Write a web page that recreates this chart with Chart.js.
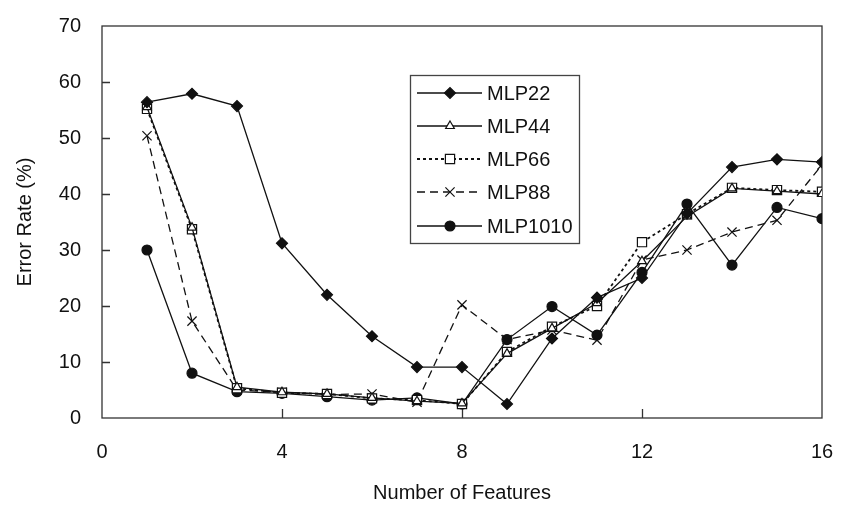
<!DOCTYPE html>
<html>
<head>
<meta charset="utf-8">
<title>Error rate by number of features</title>
<script src="https://cdn.jsdelivr.net/npm/chart.js@4.4.0/dist/chart.umd.min.js"></script>
<style>
    html, body { margin: 0; padding: 0; background: #fff; }
    #wrap { width: 843px; height: 510px; }
</style>
</head>
<body>
<div id="wrap"><canvas id="errChart"></canvas></div>
<script>
// number of input features used by each network
const features = [1, 2, 3, 4, 5, 6, 7, 8, 9, 10, 11, 12, 13, 14, 15, 16];

// error rate (%) per network
const mlp22   = [56.4, 57.9, 55.7, 31.2, 22.0, 14.6, 9.1, 9.1, 2.5, 14.2, 21.5, 25.0, 36.5, 44.8, 46.2, 45.7];
const mlp44   = [55.5, 34.0, 5.5, 4.6, 4.3, 3.6, 3.0, 2.6, 11.5, 16.0, 20.5, 28.0, 36.0, 41.0, 40.5, 40.0];
const mlp66   = [55.2, 33.7, 5.3, 4.5, 4.3, 3.5, 3.2, 2.5, 11.8, 16.3, 20.0, 31.4, 36.4, 41.1, 40.7, 40.4];
const mlp88   = [50.4, 17.3, 5.0, 4.6, 4.2, 4.3, 2.8, 20.2, 14.0, 15.7, 13.9, 28.2, 30.0, 33.2, 35.3, 45.2];
const mlp1010 = [30.0, 8.0, 4.7, 4.4, 3.8, 3.2, 3.6, 2.5, 14.0, 19.9, 14.8, 26.0, 38.2, 27.3, 37.6, 35.6];

const xTicks = [0, 4, 8, 12, 16];
const yTicks = [0, 10, 20, 30, 40, 50, 60, 70];

const INK = '#111';
const AXIS = '#333';
const FONT = "'Liberation Sans', Arial, sans-serif";

function points(values) {
    return features.map((f, i) => ({x: f, y: values[i]}));
}

function series(label, values, style) {
    return Object.assign({
        label: label,
        data: points(values),
        borderColor: INK,
        borderWidth: 1.3,
        pointBorderColor: INK,
        pointBorderWidth: 1.2,
        pointBackgroundColor: INK,
        pointRadius: 5,
        tension: 0,
        fill: false
    }, style);
}

const datasets = [
    series('MLP22', mlp22, {pointStyle: 'rectRot', pointRadius: 5.5}),
    series('MLP44', mlp44, {pointStyle: 'triangle', pointBackgroundColor: '#fff', pointRadius: 5}),
    series('MLP66', mlp66, {pointStyle: 'rect', pointBackgroundColor: '#fff', pointRadius: 6.5, borderDash: [3, 3], borderWidth: 1.8}),
    series('MLP88', mlp88, {pointStyle: 'crossRot', pointRadius: 6.5, borderDash: [8, 5]}),
    series('MLP1010', mlp1010, {pointStyle: 'circle', pointRadius: 5})
];

// frame with inward ticks, plus a boxed legend with line + marker samples
const frameAndLegend = {
    id: 'frameAndLegend',
    beforeDatasetsDraw(chart) {
        const {ctx, chartArea: a, scales} = chart;
        ctx.save();
        ctx.strokeStyle = AXIS;
        ctx.lineWidth = 1.3;
        ctx.strokeRect(a.left, a.top, a.right - a.left, a.bottom - a.top);
        ctx.beginPath();
        scales.y.ticks.forEach(t => {
            if (t.value <= 0 || t.value >= 70) return;
            const py = Math.round(scales.y.getPixelForValue(t.value)) + 0.5;
            ctx.moveTo(a.left, py);
            ctx.lineTo(a.left + 8, py);
        });
        scales.x.ticks.forEach(t => {
            if (t.value <= 0 || t.value >= 16) return;
            const px = Math.round(scales.x.getPixelForValue(t.value)) + 0.5;
            ctx.moveTo(px, a.bottom);
            ctx.lineTo(px, a.bottom - 9);
        });
        ctx.stroke();
        ctx.restore();
    },
    afterDraw(chart) {
        const {ctx} = chart;
        const box = {x: 410, y: 75, w: 169, h: 168};
        ctx.save();
        ctx.fillStyle = '#fff';
        ctx.fillRect(box.x, box.y, box.w, box.h);
        ctx.strokeStyle = '#444';
        ctx.lineWidth = 1.3;
        ctx.strokeRect(box.x + 0.5, box.y + 0.5, box.w, box.h);

        const rowY = [93, 126, 159, 192, 226];
        chart.data.datasets.forEach((ds, i) => {
            const y = rowY[i];
            ctx.save();
            ctx.strokeStyle = ds.borderColor;
            ctx.lineWidth = ds.borderWidth;
            ctx.setLineDash(ds.borderDash || []);
            ctx.beginPath();
            ctx.moveTo(417, y);
            ctx.lineTo(482, y);
            ctx.stroke();
            ctx.restore();

            ctx.save();
            ctx.fillStyle = ds.pointBackgroundColor;
            ctx.strokeStyle = ds.pointBorderColor;
            ctx.lineWidth = ds.pointBorderWidth;
            Chart.helpers.drawPoint(ctx, {
                pointStyle: ds.pointStyle,
                radius: ds.pointRadius,
                rotation: 0,
                borderWidth: ds.pointBorderWidth
            }, 450, y);
            ctx.restore();

            ctx.fillStyle = INK;
            ctx.font = '20px ' + FONT;
            ctx.textBaseline = 'middle';
            ctx.textAlign = 'left';
            ctx.fillText(ds.label, 487, y + 1);
        });
        ctx.restore();
    }
};

const ctx = document.getElementById('errChart').getContext('2d');
new Chart(ctx, {
    type: 'line',
    data: {datasets: datasets},
    options: {
        responsive: true,
        maintainAspectRatio: false,
        animation: false,
        layout: {padding: {left: 0, top: 26, right: 21, bottom: 0}},
        plugins: {
            legend: {display: false},
            tooltip: {enabled: false}
        },
        scales: {
            x: {
                type: 'linear',
                min: 0,
                max: 16,
                afterBuildTicks: axis => { axis.ticks = xTicks.map(v => ({value: v})); },
                afterFit: axis => {
                    axis.height = 92;
                    axis.paddingLeft = 0;
                    axis.paddingRight = 0;
                },
                grid: {display: false, drawTicks: false},
                border: {display: false},
                ticks: {color: INK, font: {family: FONT, size: 20}, padding: 22, maxRotation: 0},
                title: {
                    display: true,
                    text: 'Number of Features',
                    color: INK,
                    font: {family: FONT, size: 20},
                    padding: {top: 0, bottom: 5}
                }
            },
            y: {
                min: 0,
                max: 70,
                afterBuildTicks: axis => { axis.ticks = yTicks.map(v => ({value: v})); },
                afterFit: axis => {
                    axis.width = 102;
                    axis.paddingTop = 0;
                    axis.paddingBottom = 0;
                },
                grid: {display: false, drawTicks: false},
                border: {display: false},
                ticks: {color: INK, font: {family: FONT, size: 20}, padding: 21},
                title: {
                    display: true,
                    text: 'Error Rate (%)',
                    color: INK,
                    font: {family: FONT, size: 20},
                    padding: {top: 13, bottom: 0}
                }
            }
        }
    },
    plugins: [frameAndLegend]
});
</script>
</body>
</html>
